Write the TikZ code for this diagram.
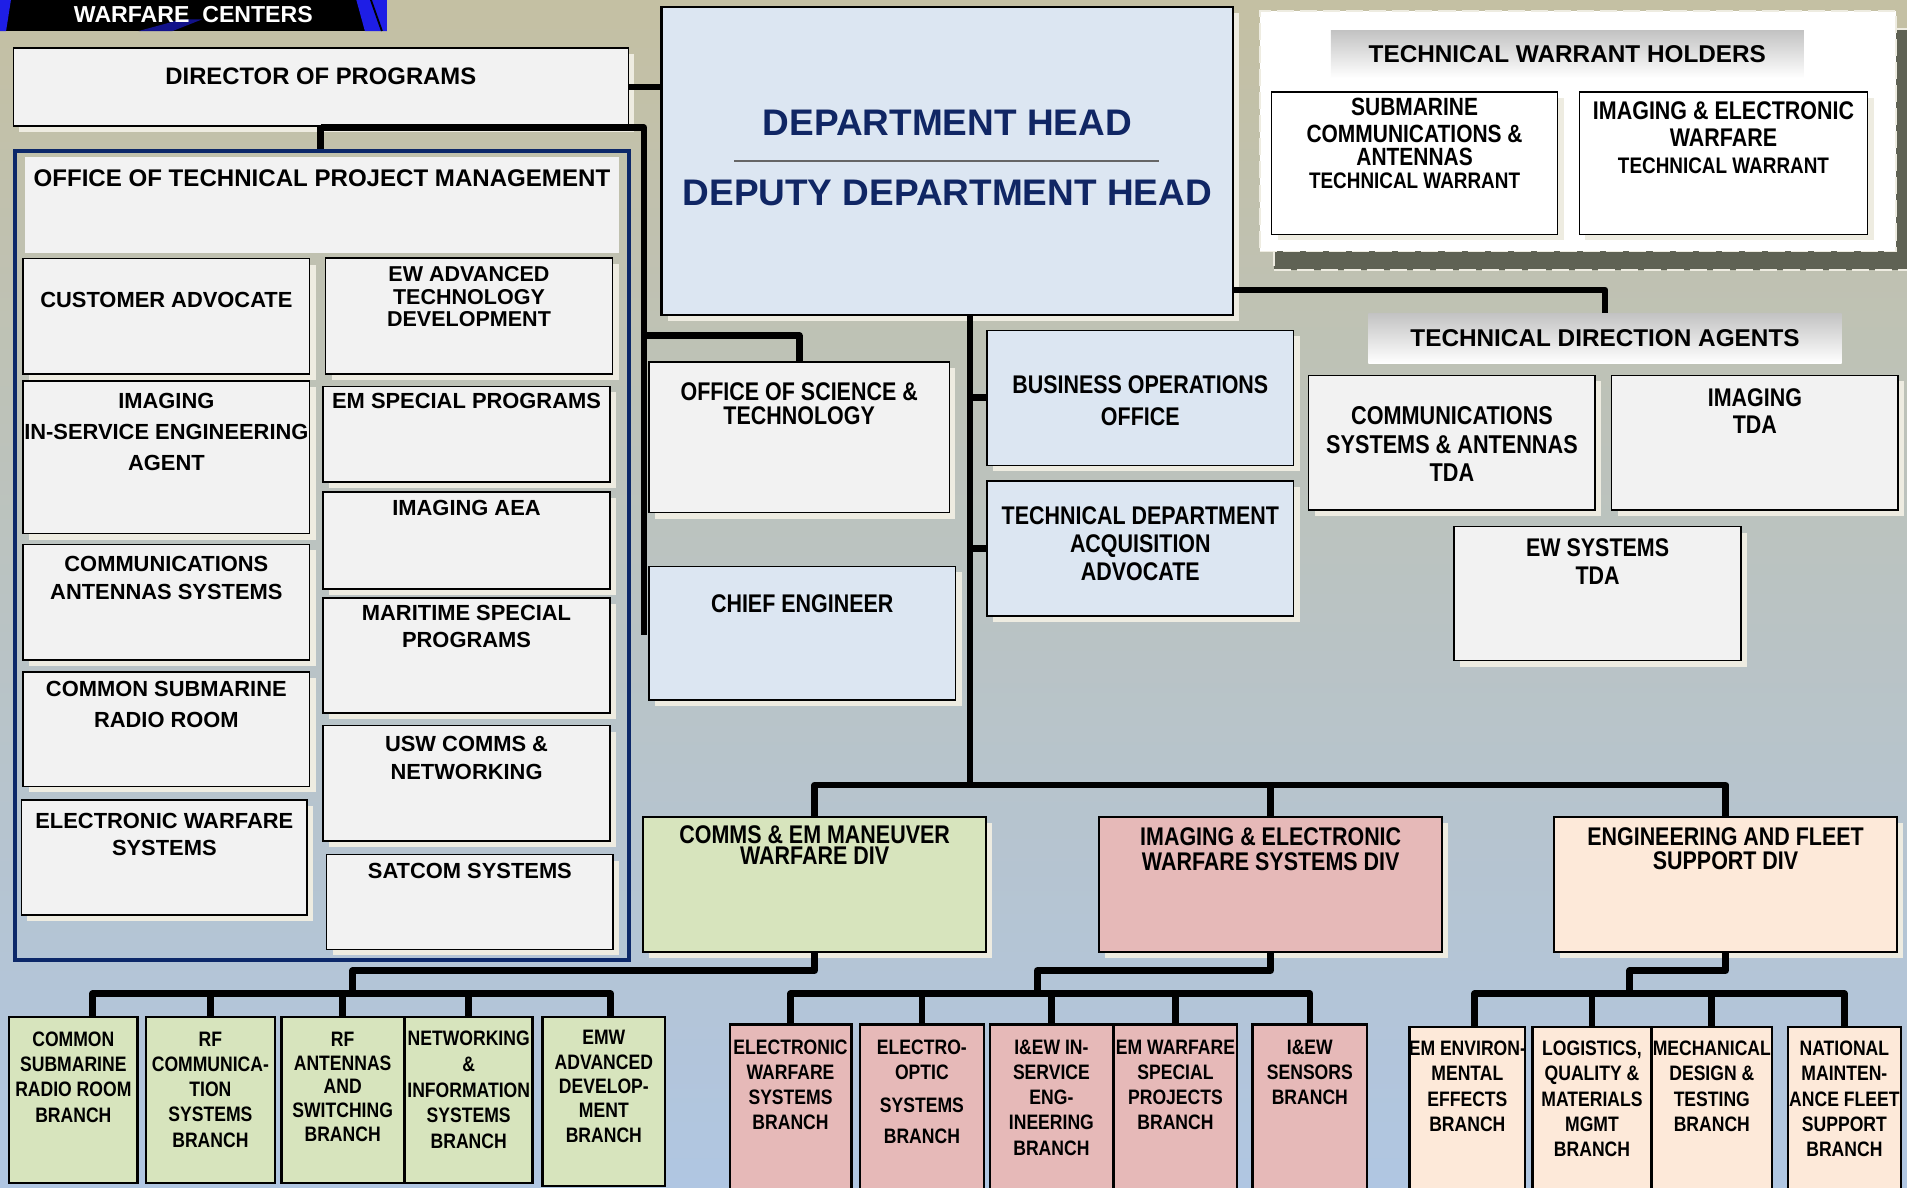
\documentclass[tikz,border=0pt]{standalone}
\usepackage{fontspec}
\setmainfont{Liberation Sans}
\newfontfamily\narrowfont{Liberation Sans}[FakeStretch=0.84]
\usepackage{tikz}
\usetikzlibrary{shadows,calc}

\definecolor{bgtop}{RGB}{196,192,163}
\definecolor{bgbot}{RGB}{176,198,226}
\definecolor{boxgrey}{RGB}{242,242,242}
\definecolor{boxblue}{RGB}{220,230,242}
\definecolor{shcream}{RGB}{238,236,225}
\definecolor{divgreen}{RGB}{215,228,189}
\definecolor{divpink}{RGB}{230,185,184}
\definecolor{divpeach}{RGB}{253,233,217}
\definecolor{dhnavy}{RGB}{16,38,100}
\definecolor{framenavy}{RGB}{12,40,105}
\definecolor{twhdark}{RGB}{95,98,84}
\definecolor{bannergrey}{RGB}{195,195,195}
\definecolor{wcblue}{RGB}{30,30,230}

\tikzstyle{conn}=[line width=5.5pt, line join=round]
\tikzstyle{box}=[rectangle, draw=black, line width=1.2pt, inner sep=0pt, anchor=north west,
  general shadow={fill=shcream, shadow xshift=5pt, shadow yshift=-5pt}]
\tikzstyle{gbox}=[box, fill=boxgrey]
\tikzstyle{bbox}=[box, fill=boxblue]
\tikzstyle{wbox}=[box, fill=white]
\tikzstyle{divbox}=[box, line width=1.6pt, minimum width=282pt, minimum height=111pt]
\tikzstyle{branch}=[rectangle, draw=black, line width=2pt, inner sep=0pt, anchor=north west, minimum height=140pt]
\tikzstyle{banner}=[rectangle, inner sep=0pt, anchor=north west, top color=bannergrey, bottom color=white,
  font=\bfseries\fontsize{20}{24}\selectfont]
\tikzstyle{twhframe}=[rectangle, inner sep=0pt, anchor=north west, fill=white, draw=shcream, line width=1.5pt,
  dash pattern=on 14pt off 5pt,
  general shadow={fill=twhdark, draw=shcream, line width=1.5pt, dash pattern=on 14pt off 5pt, shadow xshift=12pt, shadow yshift=-15pt}]
\tikzstyle{dhline}=[draw=gray!80!black, line width=1pt]
\tikzset{
  wt/.style 2 args={anchor=north, inner sep=0pt, align=center, font=\bfseries\fontsize{#1}{#2}\selectfont},
  nt/.style 2 args={anchor=north, inner sep=0pt, align=center, font=\narrowfont\bfseries\fontsize{#1}{#2}\selectfont},
  bt/.style={nt={17.2}{20.7}, yshift=-#1},
}

\begin{document}
\begin{tikzpicture}[x=1pt, y=-1pt]

  \shade[top color=bgtop, bottom color=bgbot] (0,0) rectangle (1568,976);
  \useasboundingbox (0,0) rectangle (1568,976);

  % header strip
  \fill[black] (0,0) rectangle (318,25.5);
  \fill[wcblue] (0,0) -- (9,0) -- (5,25.5) -- (0,25.5) -- cycle;
  \fill[wcblue!60!black] (114,25.5) -- (142,25.5) -- (166,16) -- (149,16) -- cycle;
  \fill[wcblue] (293,0) -- (318,0) -- (318,25.5) -- (300,25.5) -- cycle;
  \draw[black, line width=1.5pt] (305,0) -- (314,25.5);
  \node[text=white, font=\bfseries\fontsize{19}{22}\selectfont, inner sep=0pt] (wc) at (159,12.3) {WARFARE\ \ CENTERS};

  % director and technical project management
  \node[gbox, minimum width=505.6pt, minimum height=64pt,
        label={[wt={19.6}{24}, yshift=-17pt]north:DIRECTOR OF PROGRAMS}] (dir) at (10.4,39) {};
  \node[draw=framenavy, line width=3.3pt, inner sep=0pt, anchor=north west,
        minimum width=505pt, minimum height=665pt] (otpmf) at (10.3,122.3) {};
  \node[fill=boxgrey, inner sep=0pt, anchor=north west, minimum width=489pt, minimum height=79pt,
        label={[wt={19.8}{24}, yshift=-10.6pt]north:OFFICE OF TECHNICAL PROJECT MANAGEMENT}] (otpm) at (20,129) {};

  \node[gbox, minimum width=235.6pt, minimum height=95pt,
        label={[wt={18}{24}, yshift=-28pt]north:CUSTOMER ADVOCATE}] (cust) at (18.4,212) {};
  \node[gbox, minimum width=235.6pt, minimum height=125.5pt,
        label={[wt={18}{25.5}, yshift=-11pt]north:{IMAGING\\IN-SERVICE ENGINEERING\\AGENT}}] (isea) at (18.4,312.5) {};
  \node[gbox, minimum width=235.6pt, minimum height=95pt,
        label={[wt={18}{23.5}, yshift=-10pt]north:{COMMUNICATIONS\\ANTENNAS SYSTEMS}}] (cas) at (18.4,447) {};
  \node[gbox, minimum width=235.6pt, minimum height=94pt,
        label={[wt={18}{25.5}, yshift=-8pt]north:{COMMON SUBMARINE\\RADIO ROOM}}] (csrr) at (18.4,552) {};
  \node[gbox, minimum width=235pt, minimum height=94.6pt,
        label={[wt={18}{22}, yshift=-11.5pt]north:{ELECTRONIC WARFARE\\SYSTEMS}}] (ews) at (17,657) {};

  \node[gbox, minimum width=236pt, minimum height=95.3pt,
        label={[wt={17.7}{18.5}, yshift=-7.5pt]north:{EW ADVANCED\\TECHNOLOGY\\DEVELOPMENT}}] (ewatd) at (267,211.7) {};
  \node[gbox, minimum width=236pt, minimum height=78.6pt,
        label={[wt={18}{22}, yshift=-6.5pt]north:EM SPECIAL PROGRAMS}] (emsp) at (265,317) {};
  \node[gbox, minimum width=236pt, minimum height=79.6pt,
        label={[wt={18}{22}, yshift=-7.5pt]north:IMAGING AEA}] (aea) at (265,404) {};
  \node[gbox, minimum width=236pt, minimum height=94.5pt,
        label={[wt={18}{22}, yshift=-6.5pt]north:{MARITIME SPECIAL\\PROGRAMS}}] (msp) at (265,491) {};
  \node[gbox, minimum width=236pt, minimum height=95pt,
        label={[wt={18}{23.5}, yshift=-9pt]north:{USW COMMS \&\\NETWORKING}}] (usw) at (265,596) {};
  \node[gbox, minimum width=235.5pt, minimum height=78pt,
        label={[wt={18}{22}, yshift=-7.5pt]north:SATCOM SYSTEMS}] (satcom) at (268,702) {};

  % department head and staff
  \node[bbox, line width=1.8pt, minimum width=470pt, minimum height=253pt,
        label={[wt={30.4}{36}, text=dhnavy, yshift=-85.5pt]north:DEPARTMENT HEAD},
        label={[wt={30.4}{36}, text=dhnavy, yshift=-143pt]north:DEPUTY DEPARTMENT HEAD}] (dh) at (543,5) {};
  \draw[dhline] ([xshift=-175pt]dh.center) -- ([xshift=174pt]dh.center);

  \node[gbox, minimum width=247pt, minimum height=124pt,
        label={[nt={21}{19.5}, yshift=-17.4pt]north:{OFFICE OF SCIENCE \&\\TECHNOLOGY}}] (ost) at (533,297) {};
  \node[bbox, minimum width=252pt, minimum height=110pt,
        label={[nt={21}{24}, yshift=-23.5pt]north:CHIEF ENGINEER}] (ce) at (533,465) {};
  \node[bbox, minimum width=252pt, minimum height=111pt,
        label={[nt={21}{26}, yshift=-38pt]north:{BUSINESS OPERATIONS\\OFFICE}}] (boo) at (811,271) {};
  \node[bbox, minimum width=252pt, minimum height=111pt,
        label={[nt={21}{23.3}, yshift=-21pt]north:{TECHNICAL DEPARTMENT\\ACQUISITION\\ADVOCATE}}] (tdaa) at (811,395) {};

  % warrant holders
  \node[twhframe, minimum width=523pt, minimum height=198pt] (twh) at (1035,8) {};
  \node[banner, minimum width=389pt, minimum height=39pt] (twhb) at (1094,25) {TECHNICAL WARRANT HOLDERS};
  \node[wbox, minimum width=235pt, minimum height=117pt,
        label={[nt={20.5}{19}, yshift=-5.4pt]north:{SUBMARINE\\[3pt]COMMUNICATIONS \&\\ANTENNAS\\{\fontsize{18.5}{19}\selectfont TECHNICAL WARRANT}}}] (twa) at (1045,75) {};
  \node[wbox, minimum width=237pt, minimum height=117pt,
        label={[nt={21}{22.5}, yshift=-8pt]north:{IMAGING \& ELECTRONIC\\WARFARE\\{\fontsize{18.5}{22}\selectfont TECHNICAL WARRANT}}}] (twb) at (1298,75) {};

  % direction agents
  \node[banner, minimum width=389pt, minimum height=41pt] (tdab) at (1125,257.6) {TECHNICAL DIRECTION AGENTS};
  \node[gbox, minimum width=235.5pt, minimum height=110.6pt,
        label={[nt={21.2}{23.5}, yshift=-26pt]north:{COMMUNICATIONS\\SYSTEMS \& ANTENNAS\\TDA}}] (csatda) at (1075.5,308) {};
  \node[gbox, minimum width=235.4pt, minimum height=110.6pt,
        label={[nt={21}{22.7}, yshift=-11pt]north:{IMAGING\\TDA}}] (imtda) at (1324.6,308) {};
  \node[gbox, minimum width=236pt, minimum height=110.2pt,
        label={[nt={21}{23.5}, yshift=-10pt]north:{EW SYSTEMS\\TDA}}] (ewtda) at (1195,432.5) {};

  % divisions
  \node[divbox, fill=divgreen,
        label={[nt={21}{18}, yshift=-7.3pt]north:{COMMS \& EM MANEUVER\\WARFARE DIV}}] (cdiv) at (528,671) {};
  \node[divbox, fill=divpink,
        label={[nt={21}{20.5}, yshift=-9pt]north:{IMAGING \& ELECTRONIC\\WARFARE SYSTEMS DIV}}] (idiv) at (903,671) {};
  \node[divbox, fill=divpeach,
        label={[nt={21}{20}, yshift=-9pt]north:{ENGINEERING AND FLEET\\SUPPORT DIV}}] (ediv) at (1277,671) {};

  % branches
  \node[branch, fill=divgreen, minimum width=105.4pt, minimum height=136.6pt,
        label={[bt=13.3pt]north:{COMMON\\SUBMARINE\\RADIO ROOM\\BRANCH}}] (g1) at (6.6,835) {};
  \node[branch, fill=divgreen, minimum width=106pt, minimum height=136.6pt,
        label={[bt=13.3pt]north:{RF\\COMMUNICA-\\TION\\SYSTEMS\\BRANCH}}] (g2) at (119,835) {};
  \node[branch, fill=divgreen, minimum width=100.5pt, minimum height=136.6pt,
        label={[bt=13.3pt, font=\narrowfont\bfseries\fontsize{17.2}{19.5}\selectfont]north:{RF\\ANTENNAS\\AND\\SWITCHING\\BRANCH}}] (g3) at (230.5,835) {};
  \node[branch, fill=divgreen, minimum width=104.8pt, minimum height=136.6pt,
        label={[bt=12.8pt, font=\narrowfont\bfseries\fontsize{17.2}{21}\selectfont]north:{NETWORKING\\\&\\INFORMATION\\SYSTEMS\\BRANCH}}] (g4) at (332,835) {};
  \node[branch, fill=divgreen, minimum width=100.6pt, minimum height=139pt,
        label={[bt=12pt, font=\narrowfont\bfseries\fontsize{17.2}{20}\selectfont]north:{EMW\\ADVANCED\\DEVELOP-\\MENT\\BRANCH}}] (g5) at (445.2,835) {};

  \node[branch, fill=divpink, minimum width=100pt,
        label={[bt=13.3pt]north:{ELECTRONIC\\WARFARE\\SYSTEMS\\BRANCH}}] (p1) at (599,841.5) {};
  \node[branch, fill=divpink, minimum width=102pt,
        label={[bt=13.3pt]north:{ELECTRO-\\OPTIC\\[6pt]SYSTEMS\\[5pt]BRANCH}}] (p2) at (706,841.5) {};
  \node[branch, fill=divpink, minimum width=101pt,
        label={[bt=13.3pt]north:{I\&EW IN-\\SERVICE\\ENG-\\INEERING\\BRANCH}}] (p3) at (813,841.5) {};
  \node[branch, fill=divpink, minimum width=101pt,
        label={[bt=13.3pt]north:{EM WARFARE\\SPECIAL\\PROJECTS\\BRANCH}}] (p4) at (915,841.5) {};
  \node[branch, fill=divpink, minimum width=94pt,
        label={[bt=13.3pt]north:{I\&EW\\SENSORS\\BRANCH}}] (p5) at (1029,841.5) {};

  \node[branch, fill=divpeach, minimum width=95pt,
        label={[bt=12.2pt]north:{EM ENVIRON-\\MENTAL\\EFFECTS\\BRANCH}}] (e1) at (1158,843.6) {};
  \node[branch, fill=divpeach, minimum width=98pt,
        label={[bt=12.2pt]north:{LOGISTICS,\\QUALITY \&\\MATERIALS\\MGMT\\BRANCH}}] (e2) at (1259,843.6) {};
  \node[branch, fill=divpeach, minimum width=99pt,
        label={[bt=12.2pt]north:{MECHANICAL\\DESIGN \&\\TESTING\\BRANCH}}] (e3) at (1357,843.6) {};
  \node[branch, fill=divpeach, minimum width=93pt,
        label={[bt=12.2pt]north:{NATIONAL\\MAINTEN-\\ANCE FLEET\\SUPPORT\\BRANCH}}] (e4) at (1469,843.6) {};

  % connectors
  \coordinate (sj) at (529.5,105);
  \coordinate (sb) at (529.5,522);
  \coordinate (oj) at (529.5,276);
  \coordinate (sp) at (797.5,645.5);
  \coordinate (tj) at (1013,238.5);

  \draw[conn] (dir.east) -- (dir.east -| dh.west);
  \draw[conn] (dir.south) -- (dir.south |- otpmf.north);
  \draw[conn] (dir.south |- sj) -- (sj) -- (sb);
  \draw[conn] (oj) -| (ost.north);

  \draw[conn] (sp |- dh.south) -- (sp);
  \draw[conn] (sp |- boo.west) -- (boo.west);
  \draw[conn] (sp |- tdaa.west) -- (tdaa.west);
  \draw[conn] (cdiv.north) |- (sp) -| (ediv.north);
  \draw[conn] (idiv.north |- sp) -- (idiv.north);
  \draw[conn] (tj) -| (tdab.north);

  \coordinate (gc) at (290,798);
  \coordinate (gbus) at (290,817);
  \draw[conn] (cdiv.south) |- (gc) -- (gbus);
  \draw[conn] (gbus) -| ([xshift=16pt]g1.north);
  \draw[conn] (gbus) -| ([xshift=5.5pt]g5.north);
  \foreach \b in {g2,g3,g4}
    \draw[conn] (\b.north |- gbus) -- (\b.north);

  \coordinate (pc) at (853,798);
  \coordinate (pbus) at (853,817);
  \draw[conn] (idiv.south) |- (pc) -- (pbus);
  \draw[conn] (pbus) -| (p1.north);
  \draw[conn] (pbus) -| (p5.north);
  \foreach \b in {p2,p3,p4}
    \draw[conn] (\b.north |- pbus) -- (\b.north);

  \coordinate (ec) at (1340,798);
  \coordinate (ebus) at (1340,817);
  \draw[conn] (ediv.south) |- (ec) -- (ebus);
  \draw[conn] (ebus) -| ([xshift=6pt]e1.north);
  \draw[conn] (ebus) -| (e4.north);
  \foreach \b in {e2,e3}
    \draw[conn] (\b.north |- ebus) -- (\b.north);

\end{tikzpicture}
\end{document}
